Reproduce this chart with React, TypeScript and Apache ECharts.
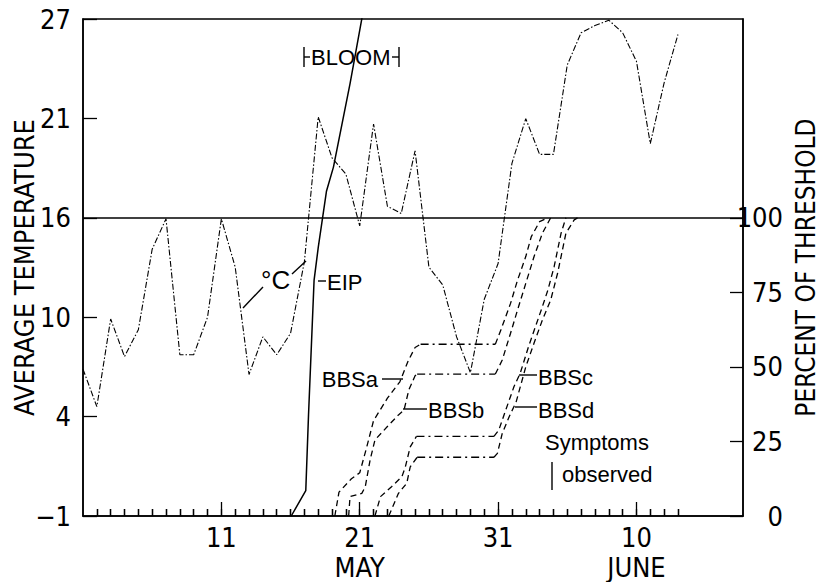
import React, { useEffect, useRef } from "react";
import * as echarts from "echarts";

// ---------- data ----------
// day index: May 1 = 1 ... May 31 = 31, June 1 = 32 ...
const tempDays = [1, 2, 3, 4, 5, 6, 7, 8, 9, 10, 11, 12, 13, 14, 15, 16, 17, 18, 19, 20, 21, 22, 23, 24, 25, 26, 27, 28, 29, 30, 31, 32, 33, 34, 35, 36, 37, 38, 39, 40, 41, 42, 43, 44];
const temperatureC = [7.1, 5.0, 9.9, 7.8, 9.3, 13.8, 15.5, 7.9, 7.9, 10.0, 15.5, 12.8, 6.8, 8.9, 7.9, 9.1, 13.1, 21.2, 18.9, 18.0, 15.1, 20.8, 16.2, 15.8, 19.3, 12.8, 11.8, 8.9, 6.9, 11.0, 13.0, 18.6, 21.1, 19.1, 19.1, 24.1, 25.9, 26.3, 26.6, 25.9, 24.3, 19.7, 23.1, 25.8];

const eipDays = [16.05, 17.1, 17.3, 17.7, 18.0, 18.6, 19.1, 20.3, 21.2];
const eipPct = [0, 8.5, 34, 79, 90, 109, 117, 145, 168];

const bbsaDays = [19.2, 19.5, 20.4, 21.0, 21.5, 22.0, 23.0, 23.9, 24.5, 25.0, 25.4, 30.8, 31.2, 31.9, 32.4, 33.0, 33.4, 34.0, 34.6];
const bbsaPct = [0, 8, 12.5, 14.5, 23, 32, 39.5, 45, 52, 56.5, 57.6, 57.6, 62.4, 71.3, 79, 87, 93.7, 98.7, 100];

const bbsbDays = [20.2, 20.3, 21.15, 21.4, 21.75, 22.1, 23.0, 23.8, 24.2, 24.55, 25.0, 25.15, 30.8, 31.3, 31.9, 32.4, 33.0, 33.6, 34.2, 34.8];
const bbsbPct = [0, 6.5, 7.6, 9.8, 18.8, 25.5, 30, 33.9, 35.5, 42.3, 47, 47.6, 47.6, 52.3, 61.3, 69, 78, 87, 94.8, 100];

const bbscDays = [22.1, 22.5, 23.3, 24.05, 24.3, 24.65, 25.1, 30.7, 31.05, 31.55, 32.15, 32.6, 33.2, 33.7, 34.2, 34.6, 35.05, 35.3, 35.55, 35.9];
const bbscPct = [0, 6.5, 9.8, 13.2, 16.5, 23.2, 26.7, 26.7, 28.8, 35.5, 43.4, 47.9, 56.8, 63.5, 70.2, 75.8, 83.6, 89.2, 94.8, 100];

const bbsdDays = [23.1, 23.8, 24.4, 24.65, 25.15, 30.7, 30.95, 31.3, 31.8, 32.3, 33.0, 33.6, 34.2, 34.8, 35.3, 35.65, 35.9, 36.5, 36.75];
const bbsdPct = [0, 7.6, 11, 16.5, 19.7, 19.7, 21, 27.7, 33.3, 38.2, 50, 58, 65.7, 72.4, 81.4, 89.2, 94.8, 99.3, 100];

const thresholdPct = 100;

// axis ticks / labels
const leftTickF = [30, 40, 50, 60, 70, 80];
const leftTickLabels = ["\u22121", "4", "10", "16", "21", "27"];
const rightTicks = [0, 25, 50, 75, 100];
const majorDays = [11, 21, 31, 41];
const majorDayLabels = ["11", "21", "31", "10"];
const monthLabels = ["", "MAY", "", "JUNE"];
const firstTickDay = 2;
const lastTickDay = 44;

const leftTitle = "AVERAGE TEMPERATURE";
const rightTitle = "PERCENT OF THRESHOLD";

// ---------- helpers ----------
const FONT_NUM = "'Liberation Sans Narrow', 'Arial Narrow', 'DejaVu Sans Condensed', 'Liberation Sans', sans-serif";
const FONT_TXT = "'Liberation Sans', Arial, sans-serif";
const toC = (f: number) => ((f - 32) * 5) / 9;
const zip = (xs: number[], ys: number[]) => xs.map((x, i) => [x, ys[i]]);

function runs(xs: number[], ys: number[]) {
  const out: { flat: boolean; pts: number[][] }[] = [];
  for (let i = 0; i < xs.length - 1; i++) {
    const flat = ys[i] === ys[i + 1];
    const last = out[out.length - 1];
    if (last && last.flat === flat) last.pts.push([xs[i + 1], ys[i + 1]]);
    else out.push({ flat, pts: [[xs[i], ys[i]], [xs[i + 1], ys[i + 1]]] });
  }
  return out;
}

const DASH = [6, 4];
const DASHDOT = [8, 4, 2, 4];

const GRID_TOP = 19;
const GRID_BOTTOM = 66;
const CHART_H = 582;
const PLOT_H = CHART_H - GRID_TOP - GRID_BOTTOM;
const PCT_MAX = (thresholdPct * (80 - 30)) / (60 - 30);
const MAJOR_TICK_PX = 14;
const MINOR_TICK_PX = 7;

export default function App() {
  const ref = useRef<HTMLDivElement>(null);
  useEffect(() => {
    if (!ref.current) return;
    const chart = echarts.init(ref.current, undefined, { renderer: "svg" });

    const leftTickC = leftTickF.map(toC);
    const dayTicks: number[] = [];
    for (let d = firstTickDay; d <= lastTickDay; d++) dayTicks.push(d);
    const pxToPct = (px: number) => (px / PLOT_H) * PCT_MAX;

    const bbsSeries: any[] = [];
    [
      [bbsaDays, bbsaPct],
      [bbsbDays, bbsbPct],
      [bbscDays, bbscPct],
      [bbsdDays, bbsdPct],
    ].forEach(([xs, ys]) => {
      runs(xs, ys).forEach((r) => {
        bbsSeries.push({
          type: "line",
          xAxisIndex: 0,
          yAxisIndex: 1,
          data: r.pts,
          symbol: "none",
          silent: true,
          lineStyle: { color: "#000", width: 1.3, type: r.flat ? DASHDOT : DASH },
        });
      });
    });

    const text = (x: number, y: number, t: string, align = "left", size = 22) => ({
      type: "text",
      x,
      y,
      silent: true,
      style: { text: t, fill: "#000", fontSize: size, fontFamily: FONT_TXT, align, verticalAlign: "middle" },
    });
    const seg = (x1: number, y1: number, x2: number, y2: number) => ({
      type: "line",
      silent: true,
      shape: { x1, y1, x2, y2 },
      style: { stroke: "#000", lineWidth: 1.4 },
    });

    // daily ticks along the bottom edge, longer at the labelled days
    const tickMarks = dayTicks.map((d) => [
      { coord: [d, 0] },
      { coord: [d, pxToPct(majorDays.includes(d) ? MAJOR_TICK_PX : MINOR_TICK_PX)] },
    ]);

    const option: any = {
      animation: false,
      backgroundColor: "#fff",
      grid: {
        left: 83,
        top: GRID_TOP,
        right: 79,
        bottom: GRID_BOTTOM,
        containLabel: false,
        outerBoundsMode: "none",
        show: true,
        borderColor: "#000",
        borderWidth: 1.5,
        backgroundColor: "transparent",
      },
      xAxis: [
        {
          type: "value",
          min: 1,
          max: 48.7,
          position: "bottom",
          axisLine: { show: true, onZero: false, lineStyle: { color: "#000", width: 1.5 } },
          axisTick: { show: true, inside: true, length: MINOR_TICK_PX, customValues: dayTicks, lineStyle: { color: "#000", width: 1.3 } },
          axisLabel: {
            show: true,
            customValues: majorDays,
            margin: 3,
            formatter: (v: number) => {
              const i = majorDays.indexOf(Math.round(v));
              if (i < 0) return "";
              return monthLabels[i] ? "{d|" + majorDayLabels[i] + "}\n{m|" + monthLabels[i] + "}" : "{d|" + majorDayLabels[i] + "}";
            },
            rich: {
              d: { color: "#000", fontSize: 27, fontFamily: FONT_NUM, lineHeight: 36 },
              m: { color: "#000", fontSize: 27, fontFamily: FONT_NUM, lineHeight: 24 },
            },
          },
          splitLine: { show: false },
        },
      ],
      yAxis: [
        {
          type: "value",
          min: toC(30),
          max: toC(80),
          position: "left",
          name: leftTitle,
          nameLocation: "middle",
          nameRotate: 90,
          nameGap: 45,
          nameMoveOverlap: false,
          nameTextStyle: { color: "#000", fontSize: 27, fontFamily: FONT_NUM },
          axisLine: { show: true, onZero: false, lineStyle: { color: "#000", width: 1.5 } },
          axisTick: { show: true, inside: true, length: 14, customValues: leftTickC, lineStyle: { color: "#000", width: 1.3 } },
          axisLabel: {
            show: true,
            customValues: leftTickC,
            margin: 12,
            color: "#000",
            fontSize: 27,
            fontFamily: FONT_NUM,
            formatter: (v: number) => {
              const i = leftTickC.findIndex((c) => Math.abs(c - v) < 1e-4);
              return i < 0 ? "" : leftTickLabels[i];
            },
          },
          splitLine: { show: false },
        },
        {
          type: "value",
          min: 0,
          max: PCT_MAX,
          position: "right",
          name: rightTitle,
          nameLocation: "middle",
          nameRotate: 90,
          nameGap: 50,
          nameMoveOverlap: false,
          nameTextStyle: { color: "#000", fontSize: 26, fontFamily: FONT_NUM },
          axisLine: { show: true, onZero: false, lineStyle: { color: "#000", width: 1.5 } },
          axisTick: { show: true, inside: true, length: 13, customValues: rightTicks, lineStyle: { color: "#000", width: 1.3 } },
          axisLabel: {
            show: true,
            customValues: rightTicks,
            margin: 2,
            align: "left",
            formatter: (v: number) => "{r|" + Math.round(v) + "}",
            rich: {
              r: { width: 38, align: "right", color: "#000", fontSize: 27, fontFamily: FONT_NUM },
            },
          },
          splitLine: { show: false },
        },
      ],
      series: [
        {
          type: "line",
          name: "temperature",
          xAxisIndex: 0,
          yAxisIndex: 0,
          data: zip(tempDays, temperatureC),
          symbol: "none",
          silent: true,
          lineStyle: { color: "#000", width: 1.1, type: [6, 2, 1.5, 2] },
        },
        {
          type: "line",
          name: "EIP",
          xAxisIndex: 0,
          yAxisIndex: 1,
          data: zip(eipDays, eipPct),
          symbol: "none",
          silent: true,
          lineStyle: { color: "#000", width: 1.5, type: "solid" },
          markLine: {
            silent: true,
            symbol: "none",
            label: { show: false },
            lineStyle: { color: "#000", width: 1.5, type: "solid" },
            data: [{ yAxis: thresholdPct }],
          },
        },
        {
          type: "line",
          name: "ticks",
          xAxisIndex: 0,
          yAxisIndex: 1,
          data: [],
          symbol: "none",
          silent: true,
          markLine: {
            silent: true,
            symbol: "none",
            label: { show: false },
            lineStyle: { color: "#000", width: 1.3, type: "solid" },
            data: tickMarks,
          },
        },
        ...bbsSeries,
      ],
      graphic: [
        // BLOOM bracket
        seg(304, 47, 304, 67),
        seg(304, 57, 310, 57),
        text(311, 57, "BLOOM"),
        seg(392, 57, 399, 57),
        seg(399, 47, 399, 67),
        // EIP
        seg(318, 281, 326, 281),
        text(327, 282, "EIP"),
        // deg C
        seg(243, 308, 263, 287),
        seg(292, 274, 306, 261),
        text(261, 280, "\u00B0C", "left", 26),
        // BBS labels
        text(378, 379, "BBSa", "right"),
        seg(382, 379, 403, 379),
        seg(403, 409, 427, 409),
        text(428, 410, "BBSb"),
        seg(519, 375, 537, 375),
        text(538, 377, "BBSc"),
        seg(515, 407, 537, 407),
        text(538, 410, "BBSd"),
        text(545, 442, "Symptoms"),
        seg(552, 462, 552, 490),
        text(562, 474, "observed"),
      ],
    };
    chart.setOption(option);
    return () => chart.dispose();
  }, []);
  return <div ref={ref} style={{ position: "fixed", left: 0, top: 0, width: 822, height: CHART_H, background: "#fff" }} />;
}
